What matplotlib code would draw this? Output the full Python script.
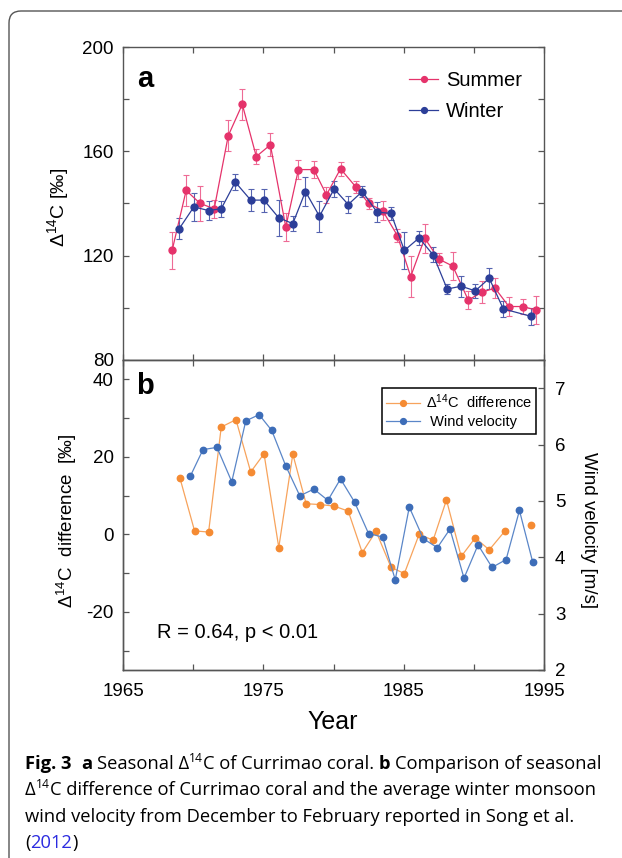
import numpy as np
import matplotlib
matplotlib.use("Agg")
import matplotlib.pyplot as plt
from matplotlib.patches import FancyBboxPatch
from matplotlib.lines import Line2D
from matplotlib.ticker import MultipleLocator
from matplotlib import font_manager as fm

# ---------------- data ----------------
summer_year = [1968.5, 1969.5, 1970.5, 1971.5, 1972.5, 1973.5, 1974.5, 1975.5, 1976.6,
               1977.5, 1978.6, 1979.5, 1980.5, 1981.6, 1982.5, 1983.5, 1984.55, 1985.5,
               1986.5, 1987.5, 1988.5, 1989.6, 1990.6, 1991.5, 1992.5, 1993.5, 1994.4]
summer = [122, 145, 140, 138, 166, 178, 158, 162.5, 131, 153, 153, 143.3, 153.3, 146.3,
          140, 137.3, 127.7, 112, 126.7, 118.7, 116, 103, 106, 107.6, 100.5, 100.5, 99.2]
summer_err = [7, 6, 6.7, 3.4, 6, 5.8, 3, 4.4, 5.3, 3.6, 3.2, 3, 2.8, 2.4, 2, 3.8, 2.6,
              8, 5.6, 2.3, 5.4, 3.4, 4.3, 3.7, 3.8, 3, 5.3]

winter_year = [1969.0, 1970.05, 1971.1, 1972.0, 1973.0, 1974.1, 1975.05, 1976.1, 1977.1,
               1978.0, 1979.0, 1980.05, 1981.05, 1982.05, 1983.1, 1984.1, 1985.05, 1986.1,
               1987.1, 1988.1, 1989.1, 1990.1, 1991.1, 1992.1, 1994.1]
winter = [130.3, 138.7, 137.3, 138, 148.2, 141.3, 141.3, 134.5, 132.3, 144.6, 135.1, 145.6,
          139.6, 144.6, 136.7, 136.2, 122, 126.8, 120.3, 107.2, 108.3, 106.5, 111.3, 99.6, 96.7]
winter_err = [4, 5.4, 3.7, 3.1, 3.2, 4.2, 4.4, 7, 2.8, 5.6, 6, 3, 3.3, 2.2, 3.8, 2.6, 7,
              2.6, 2.9, 1.8, 4, 2.8, 4, 3.2, 3.3]

diff_year = [1969.06, 1970.1, 1971.1, 1972.0, 1973.05, 1974.1, 1975.05, 1976.1, 1977.1,
             1978.05, 1979.05, 1980.05, 1981.05, 1982.05, 1983.03, 1984.1, 1985.05, 1986.1,
             1987.1, 1988.05, 1989.1, 1990.1, 1991.1, 1992.2, 1993.1, 1994.1]
diff = [14.5, 0.9, 0.6, 27.7, 29.6, 16.1, 20.8, -3.4, 20.7, 7.9, 7.7, 7.3, 6.0, -4.7, 0.8,
        -8.5, -10.1, 0.0, -1.5, 8.9, -5.7, -0.9, -4.0, 0.8, np.nan, 2.5]

wind_year = [1969.8, 1970.7, 1971.7, 1972.75, 1973.75, 1974.7, 1975.6, 1976.6, 1977.6,
             1978.6, 1979.6, 1980.5, 1981.5, 1982.5, 1983.5, 1984.4, 1985.4, 1986.4,
             1987.4, 1988.3, 1989.3, 1990.3, 1991.3, 1992.3, 1993.25, 1994.2]
wind = [5.44, 5.91, 5.95, 5.34, 6.42, 6.53, 6.25, 5.62, 5.09, 5.21, 5.01, 5.39, 4.98,
        4.42, 4.36, 3.60, 4.89, 4.33, 4.17, 4.50, 3.63, 4.22, 3.82, 3.96, 4.83, 3.91]

xticks_labeled = [1965, 1975, 1985, 1995]
xticks_minor = [1970, 1980, 1990]

# ---------------- style ----------------
plt.rcParams['font.family'] = ['Liberation Sans', 'DejaVu Sans']
plt.rcParams['axes.unicode_minus'] = False
PINK = '#E5336B'
NAVY = '#2C3E98'
ORANGE = '#F58B33'
ORANGE_L = '#F7A35C'
BLUE = '#3D6DB8'
BLUE_L = '#5A86C8'
SPINE = '#555555'

W, H = 622, 858
fig = plt.figure(figsize=(W / 100, H / 100), dpi=100)


def fx(px):
    return px / W


def fy(py):
    return 1 - py / H


# border
border = FancyBboxPatch((9, -60), 800, H - 11 + 60, boxstyle="round,pad=0,rounding_size=12",
                        transform=None, fill=False, edgecolor='#555555', linewidth=1.0)
fig.add_artist(border)

L, R = 123, 544
axa = fig.add_axes([fx(L), fy(360), fx(R) - fx(L), fy(47) - fy(360)])
axb = fig.add_axes([fx(L), fy(670), fx(R) - fx(L), fy(360) - fy(670)])
ax2 = axb.twinx()

for ax in (axa, axb, ax2):
    for s in ax.spines.values():
        s.set_color(SPINE)
        s.set_linewidth(1.0)

# ---- panel a ----
axa.errorbar(summer_year, summer, yerr=summer_err, color=PINK, marker='o', ms=5,
             lw=0.9, elinewidth=0.8, capsize=2, capthick=0.8, ecolor='#EE6B95')
axa.errorbar(winter_year, winter, yerr=winter_err, color=NAVY, marker='o', ms=5,
             lw=0.9, elinewidth=0.8, capsize=2, capthick=0.8, ecolor='#5563B0')
axa.set_xlim(1965, 1995)
axa.set_ylim(80, 200)
axa.yaxis.set_major_locator(MultipleLocator(40))
axa.yaxis.set_minor_locator(MultipleLocator(20))
axa.set_xticks(xticks_labeled)
axa.set_xticks(xticks_minor, minor=True)
axa.tick_params(which='both', direction='in', length=4.5, width=0.9, color=SPINE,
                top=True, right=True, labelbottom=False, labelsize=13.5, pad=6.5)

fig.text(fx(145), fy(87), 'a', fontsize=21, fontweight='bold', ha='center', va='baseline')
fig.text(fx(58), fy(207), r'Δ$\mathregular{^{14}}$C [‰]', fontsize=14, rotation=90,
         ha='center', va='center')

h_s = Line2D([], [], color=PINK, marker='o', ms=4.2, lw=0.9)
h_w = Line2D([], [], color=NAVY, marker='o', ms=4.2, lw=0.9)
axa.legend([h_s, h_w], ['Summer', 'Winter'], loc='upper left',
           bbox_to_anchor=(fx(409), fy(71)), bbox_transform=fig.transFigure,
           frameon=False, fontsize=14.5, handlelength=1.45, handletextpad=0.4,
           labelspacing=0.62, borderpad=0, borderaxespad=0)

# ---- panel b ----
axb.plot(diff_year, diff, color=ORANGE_L, lw=0.9, zorder=2)
axb.plot(diff_year, diff, color=ORANGE, marker='o', ms=4.6, lw=0, zorder=3)
ax2.plot(wind_year, wind, color=BLUE_L, lw=0.9, zorder=2)
ax2.plot(wind_year, wind, color=BLUE, marker='o', ms=4.6, lw=0, zorder=3)

axb.set_xlim(1965, 1995)
axb.set_ylim(-35, 45)
axb.yaxis.set_major_locator(MultipleLocator(20))
axb.yaxis.set_minor_locator(MultipleLocator(10))
axb.set_xticks(xticks_labeled)
axb.set_xticks(xticks_minor, minor=True)
axb.set_xticklabels([str(v) for v in xticks_labeled])
axb.tick_params(which='both', direction='in', length=4.5, width=0.9, color=SPINE,
                top=True, right=False, labelsize=13.5, pad=6.5)
axb.tick_params(axis='x', pad=9)
ax2.set_ylim(2, 7.5)
ax2.set_yticks([2, 3, 4, 5, 6, 7])
ax2.tick_params(which='both', direction='in', length=4.5, width=0.9, color=SPINE,
                labelsize=13.5, pad=8)

fig.text(fx(145), fy(394), 'b', fontsize=21, fontweight='bold', ha='center', va='baseline')
fig.text(fx(67), fy(521), r'Δ$\mathregular{^{14}}$C  difference  [‰]', fontsize=13.5,
         rotation=90, ha='center', va='center')
fig.text(fx(589), fy(530), 'Wind velocity [m/s]', fontsize=13.5, rotation=270,
         ha='center', va='center')
fig.text(fx(157), fy(638), 'R = 0.64, p < 0.01', fontsize=14.5, ha='left', va='baseline')
fig.text(fx(333), fy(722), 'Year', fontsize=18, ha='center', va='center')

h_d = Line2D([], [], color=ORANGE_L, marker='o', ms=4.2, lw=0.9, markerfacecolor=ORANGE,
             markeredgecolor=ORANGE)
h_v = Line2D([], [], color=BLUE_L, marker='o', ms=4.2, lw=0.9, markerfacecolor=BLUE,
             markeredgecolor=BLUE)
lg = ax2.legend([h_d, h_v], [r'Δ$\mathregular{^{14}}$C  difference', ' Wind velocity'],
                loc='upper left', bbox_to_anchor=(fx(382), fy(388)),
                bbox_transform=fig.transFigure, fontsize=10.5, handlelength=2.3,
                handletextpad=0.4, labelspacing=0.3, borderpad=0.3, borderaxespad=0,
                fancybox=False, framealpha=1)
lg.get_frame().set_edgecolor('black')
lg.get_frame().set_linewidth(1.1)
lg.set_zorder(10)

# ---------------- caption ----------------
def has_font(name):
    try:
        fm.findfont(fm.FontProperties(family=name), fallback_to_default=False)
        return True
    except Exception:
        return False


renderer = fig.canvas.get_renderer()

line1 = [('Fig. 3', 'b', 'k'), (' ', 'n', 'k'), ('a', 'b', 'k'), (' Seasonal Δ', 'n', 'k'),
         ('14', 'sup', 'k'), ('C of Currimao coral. ', 'n', 'k'), ('b', 'b', 'k'),
         (' Comparison of seasonal', 'n', 'k')]
line2 = [('Δ', 'n', 'k'), ('14', 'sup', 'k'),
         ('C difference of Currimao coral and the average winter monsoon', 'n', 'k')]
line3 = [('wind velocity from December to February reported in Song et al.', 'n', 'k')]
line4 = [('(', 'n', 'k'), ('2012', 'n', '#2B2BE0'), (')', 'n', 'k')]


def space_w(size, family, weight):
    t1 = fig.text(0, 0, 'a a', fontsize=size, family=family, fontweight=weight)
    t2 = fig.text(0, 0, 'aa', fontsize=size, family=family, fontweight=weight)
    w = t1.get_window_extent(renderer).width - t2.get_window_extent(renderer).width
    t1.remove()
    t2.remove()
    return w


def draw_runs(runs, x0, ybase, size, family, keep=True):
    x = x0
    made = []
    for s, kind, color in runs:
        weight = 'bold' if kind == 'b' else 'normal'
        fs = size * 0.66 if kind == 'sup' else size
        yb = ybase - (size * 0.40 * 100 / 72 if kind == 'sup' else 0)
        sw = space_w(fs, family, weight)
        lead = len(s) - len(s.lstrip(' '))
        trail = len(s) - len(s.rstrip(' '))
        core = s.strip(' ')
        x += lead * sw
        if core:
            t = fig.text(fx(x), fy(yb), core, fontsize=fs, fontweight=weight, family=family,
                         color=color, ha='left', va='baseline')
            x += t.get_window_extent(renderer).width
            made.append(t)
        x += trail * sw
    if not keep:
        for t in made:
            t.remove()
    return x - x0


cands = [f for f in ['Liberation Sans Narrow', 'Open Sans'] if has_font(f)] or ['DejaVu Sans']
target = 576.0
best = None
for fam in cands:
    w10 = draw_runs(line1, 0, 0, 10, fam, keep=False)
    size = min(15.0, 10 * target / w10)
    if best is None or size > best[1] + 0.5:
        best = (fam, size)
cap_fam, cap_size = best

x0 = 25
for i, ln in enumerate([line1, line2, line3, line4]):
    draw_runs(ln, x0, 769 + 26.3 * i, cap_size, cap_fam)

fig.savefig('out.png', dpi=100)
